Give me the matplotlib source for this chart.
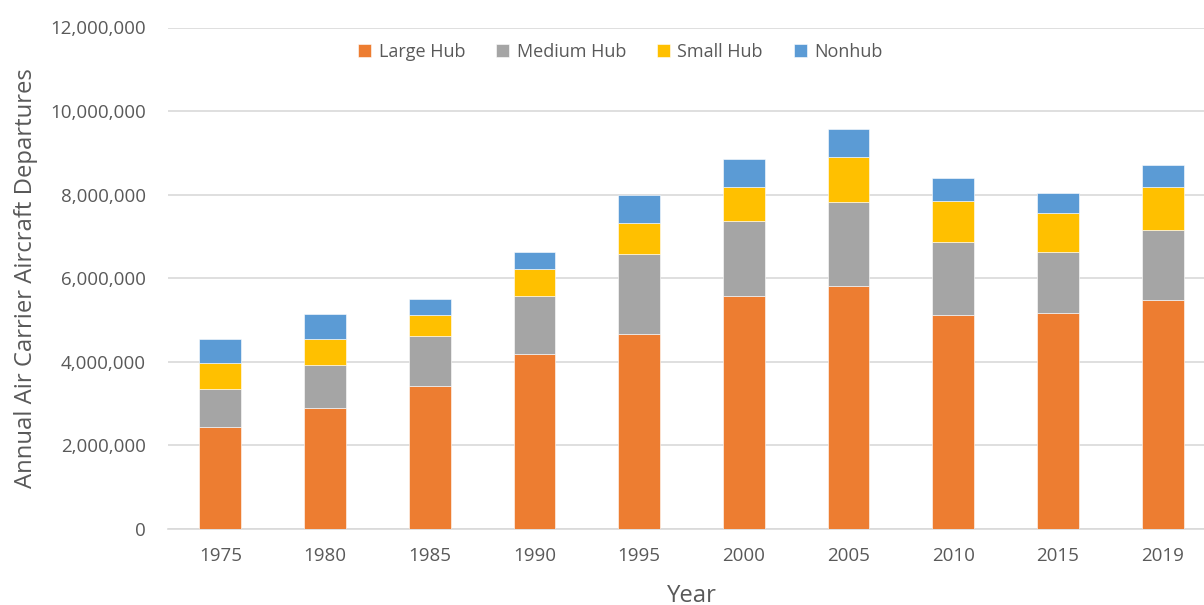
import matplotlib
matplotlib.use("Agg")
import matplotlib.pyplot as plt
import numpy as np
from matplotlib.ticker import FuncFormatter

years = ["1975", "1980", "1985", "1990", "1995", "2000", "2005", "2010", "2015", "2019"]
large_hub = [2.44e6, 2.89e6, 3.43e6, 4.18e6, 4.66e6, 5.57e6, 5.81e6, 5.12e6, 5.17e6, 5.47e6]
medium_hub = [0.90e6, 1.04e6, 1.19e6, 1.39e6, 1.92e6, 1.81e6, 2.01e6, 1.75e6, 1.46e6, 1.68e6]
small_hub = [0.63e6, 0.61e6, 0.50e6, 0.66e6, 0.74e6, 0.80e6, 1.09e6, 0.98e6, 0.93e6, 1.03e6]
nonhub = [0.58e6, 0.60e6, 0.38e6, 0.41e6, 0.67e6, 0.68e6, 0.65e6, 0.56e6, 0.48e6, 0.53e6]

series = [("Large Hub", large_hub, "#ED7D31"),
          ("Medium Hub", medium_hub, "#A5A5A5"),
          ("Small Hub", small_hub, "#FFC000"),
          ("Nonhub", nonhub, "#5B9BD5")]

plt.rcParams['font.family'] = ['Open Sans', 'DejaVu Sans']
txt = "#595959"

fig = plt.figure(figsize=(12.04, 6.05), dpi=100)
ax = fig.add_axes([168/1204, 1-529/605, (1215-168)/1204, (529-27.5)/605])

x = np.arange(len(years))
bottom = np.zeros(len(years))
for name, vals, col in series:
    ax.bar(x, vals, width=0.4, bottom=bottom, color=col, label=name,
           edgecolor="white", linewidth=0.4, zorder=3)
    bottom += np.array(vals)

ax.set_xlim(-0.5, len(years) - 0.5)
ax.set_ylim(0, 12e6)
ax.set_yticks(np.arange(0, 12e6 + 1, 2e6))
ax.yaxis.set_major_formatter(FuncFormatter(lambda v, p: f"{int(v):,}"))
ax.set_xticks(x)
ax.set_xticklabels(years)
ax.grid(axis="y", color="#D9D9D9", linewidth=1.2, zorder=0)
ax.set_axisbelow(True)
for s in ["left", "right", "top"]:
    ax.spines[s].set_visible(False)
ax.spines["bottom"].set_color("#D9D9D9")
ax.spines["bottom"].set_linewidth(1.2)
ax.tick_params(axis="both", length=0, colors=txt, labelsize=13.5)
ax.tick_params(axis="y", pad=16)
ax.tick_params(axis="x", pad=13)

ax.set_ylabel("Annual Air Carrier Aircraft Departures", fontsize=17.2, color=txt, labelpad=9)
ax.set_xlabel("Year", fontsize=17.2, color=txt, labelpad=14)

leg = ax.legend(loc="center", bbox_to_anchor=(0.432, 0.951), ncol=4, frameon=False,
                fontsize=13, handlelength=0.75, handleheight=0.75, handletextpad=0.4,
                columnspacing=1.7)
for t in leg.get_texts():
    t.set_color(txt)

fig.savefig("out.png", dpi=100)
